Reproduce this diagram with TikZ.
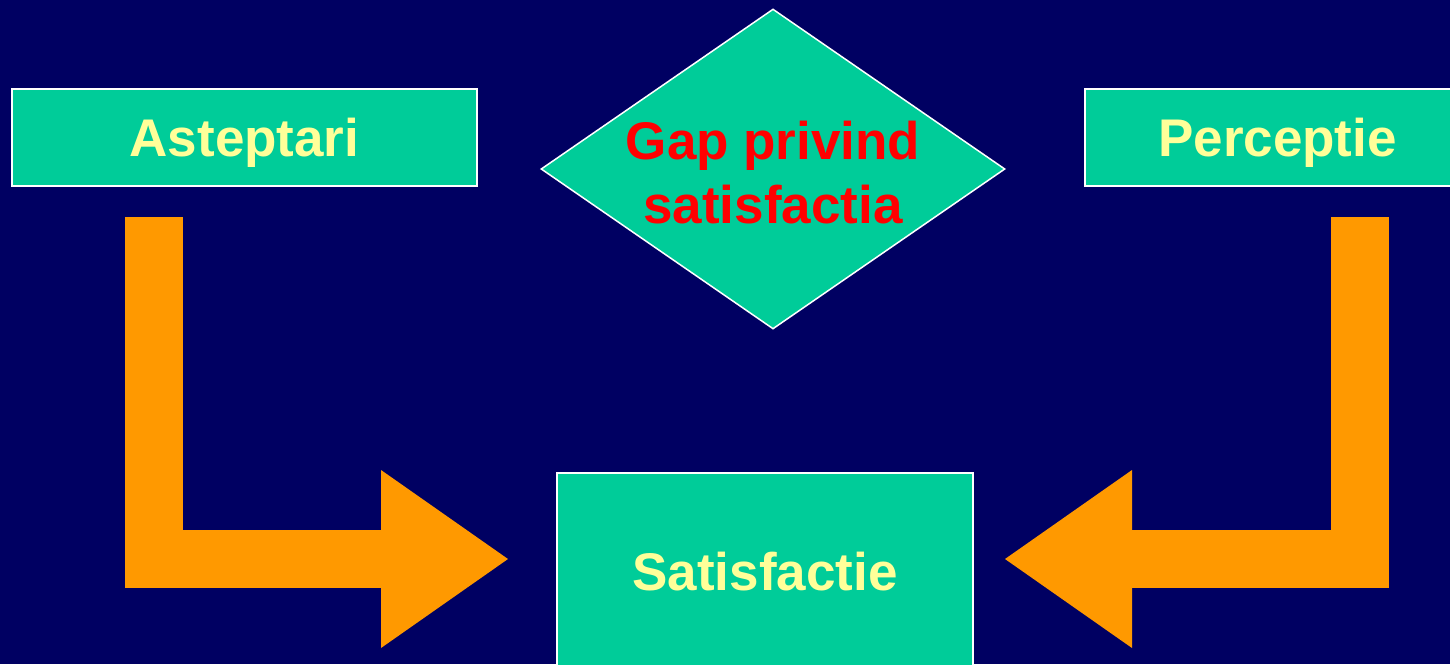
\documentclass[tikz,border=0pt]{standalone}
\usepackage{fontspec}
\setmainfont{Liberation Sans}
\usetikzlibrary{shapes.geometric,arrows.meta}

\definecolor{navy}{HTML}{000062}
\definecolor{teal}{HTML}{00CC99}
\definecolor{pale}{HTML}{FFFF99}
\definecolor{amber}{HTML}{FF9900}

\tikzset{
  box/.style={draw=white, line width=1.5pt, fill=teal, inner sep=0pt,
    text=pale, font=\bfseries\fontsize{53}{64}\selectfont,
    text height=38pt, text depth=0pt},
  gapdiamond/.style={diamond, draw=white, line width=1.5pt, fill=teal,
    inner sep=0pt, minimum width=464pt, minimum height=320pt},
  gaptext/.style={text=red, align=center,
    font=\bfseries\fontsize{53}{64}\selectfont},
  bigarrow/.style={amber, line width=58pt, line join=miter,
    -{Triangle[length=127pt, width=178pt, line width=0pt]}}
}

\begin{document}
\begin{tikzpicture}[x=1pt, y=-1pt]
    \useasboundingbox (0,0) rectangle (1450,664);
    \fill[navy] (0,0) rectangle (1450,664);

    \node[box, minimum width=465pt, minimum height=97pt] (ast) at (244.5,137.5) {Asteptari};
    \node[box, minimum width=385pt, minimum height=97pt] (per) at (1277.5,137.5) {Perceptie};
    \node[box, minimum width=416pt, minimum height=196pt] (sat) at (765,571) {Satisfactie};

    \node[gapdiamond] (gap) at (773,169) {};
    \node[gaptext] (gaplabel) at (773,173) {Gap privind\\satisfactia};

    % block arrows
    \coordinate (astart) at (154,217);
    \coordinate (atip) at (508,559);
    \coordinate (pstart) at (1360,217);
    \coordinate (ptip) at (1005,559);
    \draw[bigarrow] (astart) |- (atip);
    \draw[bigarrow] (pstart) |- (ptip);
\end{tikzpicture}
\end{document}
